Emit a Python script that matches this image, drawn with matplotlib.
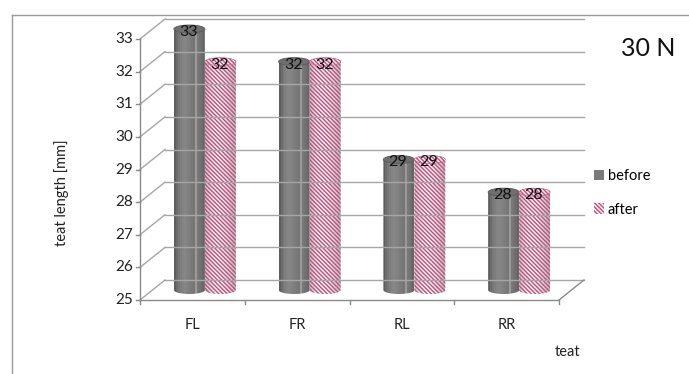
import numpy as np
import matplotlib
matplotlib.use("Agg")
import matplotlib.pyplot as plt
from matplotlib.patches import PathPatch, Rectangle, Ellipse, Patch
from matplotlib.path import Path
from matplotlib.lines import Line2D

# ---- data -------------------------------------------------------------
categories = ["FL", "FR", "RL", "RR"]
before = [33, 32, 29, 28]
after = [32, 32, 29, 28]
series_names = ["before", "after"]
y_ticks = [25, 26, 27, 28, 29, 30, 31, 32, 33]

plt.rcParams["font.family"] = ["Lato", "DejaVu Sans"]

W, H, DPI = 689, 374, 100
fig = plt.figure(figsize=(W / DPI, H / DPI), dpi=DPI)

# front plane of the 3-D box
x0_px, x1_px, yb_px, yt_px = 140, 559, 300, 39
ax = fig.add_axes([x0_px / W, (H - yb_px) / H, (x1_px - x0_px) / W, (yb_px - yt_px) / H])
ax.set_xlim(-0.5, len(categories) - 0.5)
ax.set_ylim(y_ticks[0], y_ticks[-1])
ax.axis("off")

px_x = (x1_px - x0_px) / len(categories)       # pixels per category
px_y = (yb_px - yt_px) / (y_ticks[-1] - y_ticks[0])  # pixels per unit
DX = 25 / px_x     # depth shift in data units
DY = 20 / px_y
BW = 31 / px_x     # cylinder width
EH = 8 / px_y      # cylinder cap height

grid_c = "#a6a6a6"
axis_c = "#8a8a8a"
xl, xr = -0.5, len(categories) - 0.5
ymin = y_ticks[0]

# back wall and side wall gridlines
for v in y_ticks:
    ax.plot([xl + DX, xr + DX], [v + DY, v + DY], color=grid_c, lw=1, clip_on=False)
    ax.plot([xl, xl + DX], [v, v + DY], color=grid_c, lw=1, clip_on=False)
    ax.plot([xl - 4 / px_x, xl], [v, v], color=axis_c, lw=1, clip_on=False)
    ax.annotate(str(v), (xl, v), xytext=(-7, 0), textcoords="offset pixels",
                ha="right", va="center", fontsize=11, color="#222222",
                annotation_clip=False)

# front axis, floor edges and category ticks
ax.plot([xl, xl], [ymin, y_ticks[-1]], color=axis_c, lw=1, clip_on=False)
ax.plot([xl, xr], [ymin, ymin], color=axis_c, lw=1, clip_on=False)
ax.plot([xr, xr + DX], [ymin, ymin + DY], color=axis_c, lw=1, clip_on=False)
for k in range(len(categories) + 1):
    xt = xl + k
    ax.plot([xt, xt], [ymin, ymin - 4 / px_y], color=axis_c, lw=1, clip_on=False)
for i, c in enumerate(categories):
    ax.annotate(c, (i, ymin), xytext=(0, -25), textcoords="offset pixels",
                ha="center", va="center", fontsize=10.5, color="#222222",
                annotation_clip=False)

# cylinder shading profiles (left -> right)
gray_profile = ["#5e5e5e", "#6c6c6c", "#777777", "#7e7e7e", "#838383", "#868686",
                "#848484", "#808080", "#7c7c7c", "#787878", "#757575", "#9a9a9a",
                "#787878", "#727272", "#6c6c6c", "#656565"]
light_profile = ["#c4c4c4", "#d4d4d4", "#e0e0e0", "#e8e8e8", "#eeeeee", "#f2f2f2",
                 "#f4f4f4", "#f3f3f3", "#f0f0f0", "#ebebeb", "#e6e6e6", "#e0e0e0",
                 "#d8d8d8", "#d0d0d0", "#c6c6c6", "#bcbcbc"]
pink = "#c0507e"
HATCH = "\\" * 8
plt.rcParams["hatch.linewidth"] = 1.0


def cylinder(cx, base, top, profile, hatched):
    a, b = BW / 2, EH / 2
    th = np.linspace(np.pi, 2 * np.pi, 40)
    verts = [(cx - a, top), (cx - a, base)]
    verts += [(cx + a * np.cos(t), base + b * np.sin(t)) for t in th]
    verts += [(cx + a, top), (cx - a, top)]
    codes = [Path.MOVETO] + [Path.LINETO] * (len(verts) - 2) + [Path.CLOSEPOLY]
    sil = PathPatch(Path(verts, codes), transform=ax.transData, facecolor="none",
                    edgecolor="none", clip_on=False)
    n = len(profile)
    for k, col in enumerate(profile):
        r = Rectangle((cx - a + k * BW / n, base - b), BW / n * 1.05, top - base + b,
                      facecolor=col, edgecolor="none", lw=0)
        ax.add_patch(r)
        r.set_clip_box(None)
        r.set_clip_path(sil)
    if hatched:
        hp = PathPatch(Path(verts, codes), facecolor="none", edgecolor=pink, lw=0,
                       hatch=HATCH, clip_on=False)
        ax.add_patch(hp)
        cap = Ellipse((cx, top), BW, EH, facecolor="#ececec", edgecolor=pink,
                      lw=0.4, hatch=HATCH, clip_on=False)
        ax.add_patch(cap)
    else:
        cap = Ellipse((cx, top), BW, EH, facecolor="#6f6f6f", edgecolor="#5a5a5a",
                      lw=0.6, clip_on=False)
        ax.add_patch(cap)


for i in range(len(categories)):
    for s, (vals, prof, hat) in enumerate([(before, gray_profile, False),
                                            (after, light_profile, True)]):
        cx = i + (s - 0.5) * BW + DX / 2
        base = ymin + DY / 2
        top = vals[i] + DY / 2
        cylinder(cx, base, top, prof, hat)
        ax.annotate(str(vals[i]), (cx, top), xytext=(-1, -3), textcoords="offset pixels",
                    ha="center", va="center", fontsize=11.5, color="#111111",
                    annotation_clip=False)

# chart frame
fig.add_artist(Line2D([12 / W, 12 / W], [0, 1 - 15 / H], color="#9a9a9a", lw=1))
fig.add_artist(Line2D([12 / W, 1], [1 - 15 / H, 1 - 15 / H], color="#9a9a9a", lw=1))

# legend
handles = [Patch(facecolor="#7a7a7a", edgecolor="none"),
           Patch(facecolor="#f0f0f0", edgecolor=pink, lw=0, hatch=HATCH)]
fig.legend(handles, series_names, loc="upper left", bbox_to_anchor=(594 / W, 1 - 169 / H),
           frameon=False, fontsize=10.5, handlelength=0.7, handleheight=0.7,
           handletextpad=0.25, labelspacing=1.35, borderpad=0, borderaxespad=0)

fig.text(62 / W, 1 - 193 / H, "teat length [mm]", rotation=90, ha="center", va="center",
         fontsize=10.5, color="#222222")
fig.text(567 / W, 1 - 352 / H, "teat", ha="center", va="center", fontsize=10.5, color="#222222")
fig.text(648 / W, 1 - 49 / H, "30 N", ha="center", va="center", fontsize=18, color="#111111")

fig.savefig("out.png", dpi=DPI)
